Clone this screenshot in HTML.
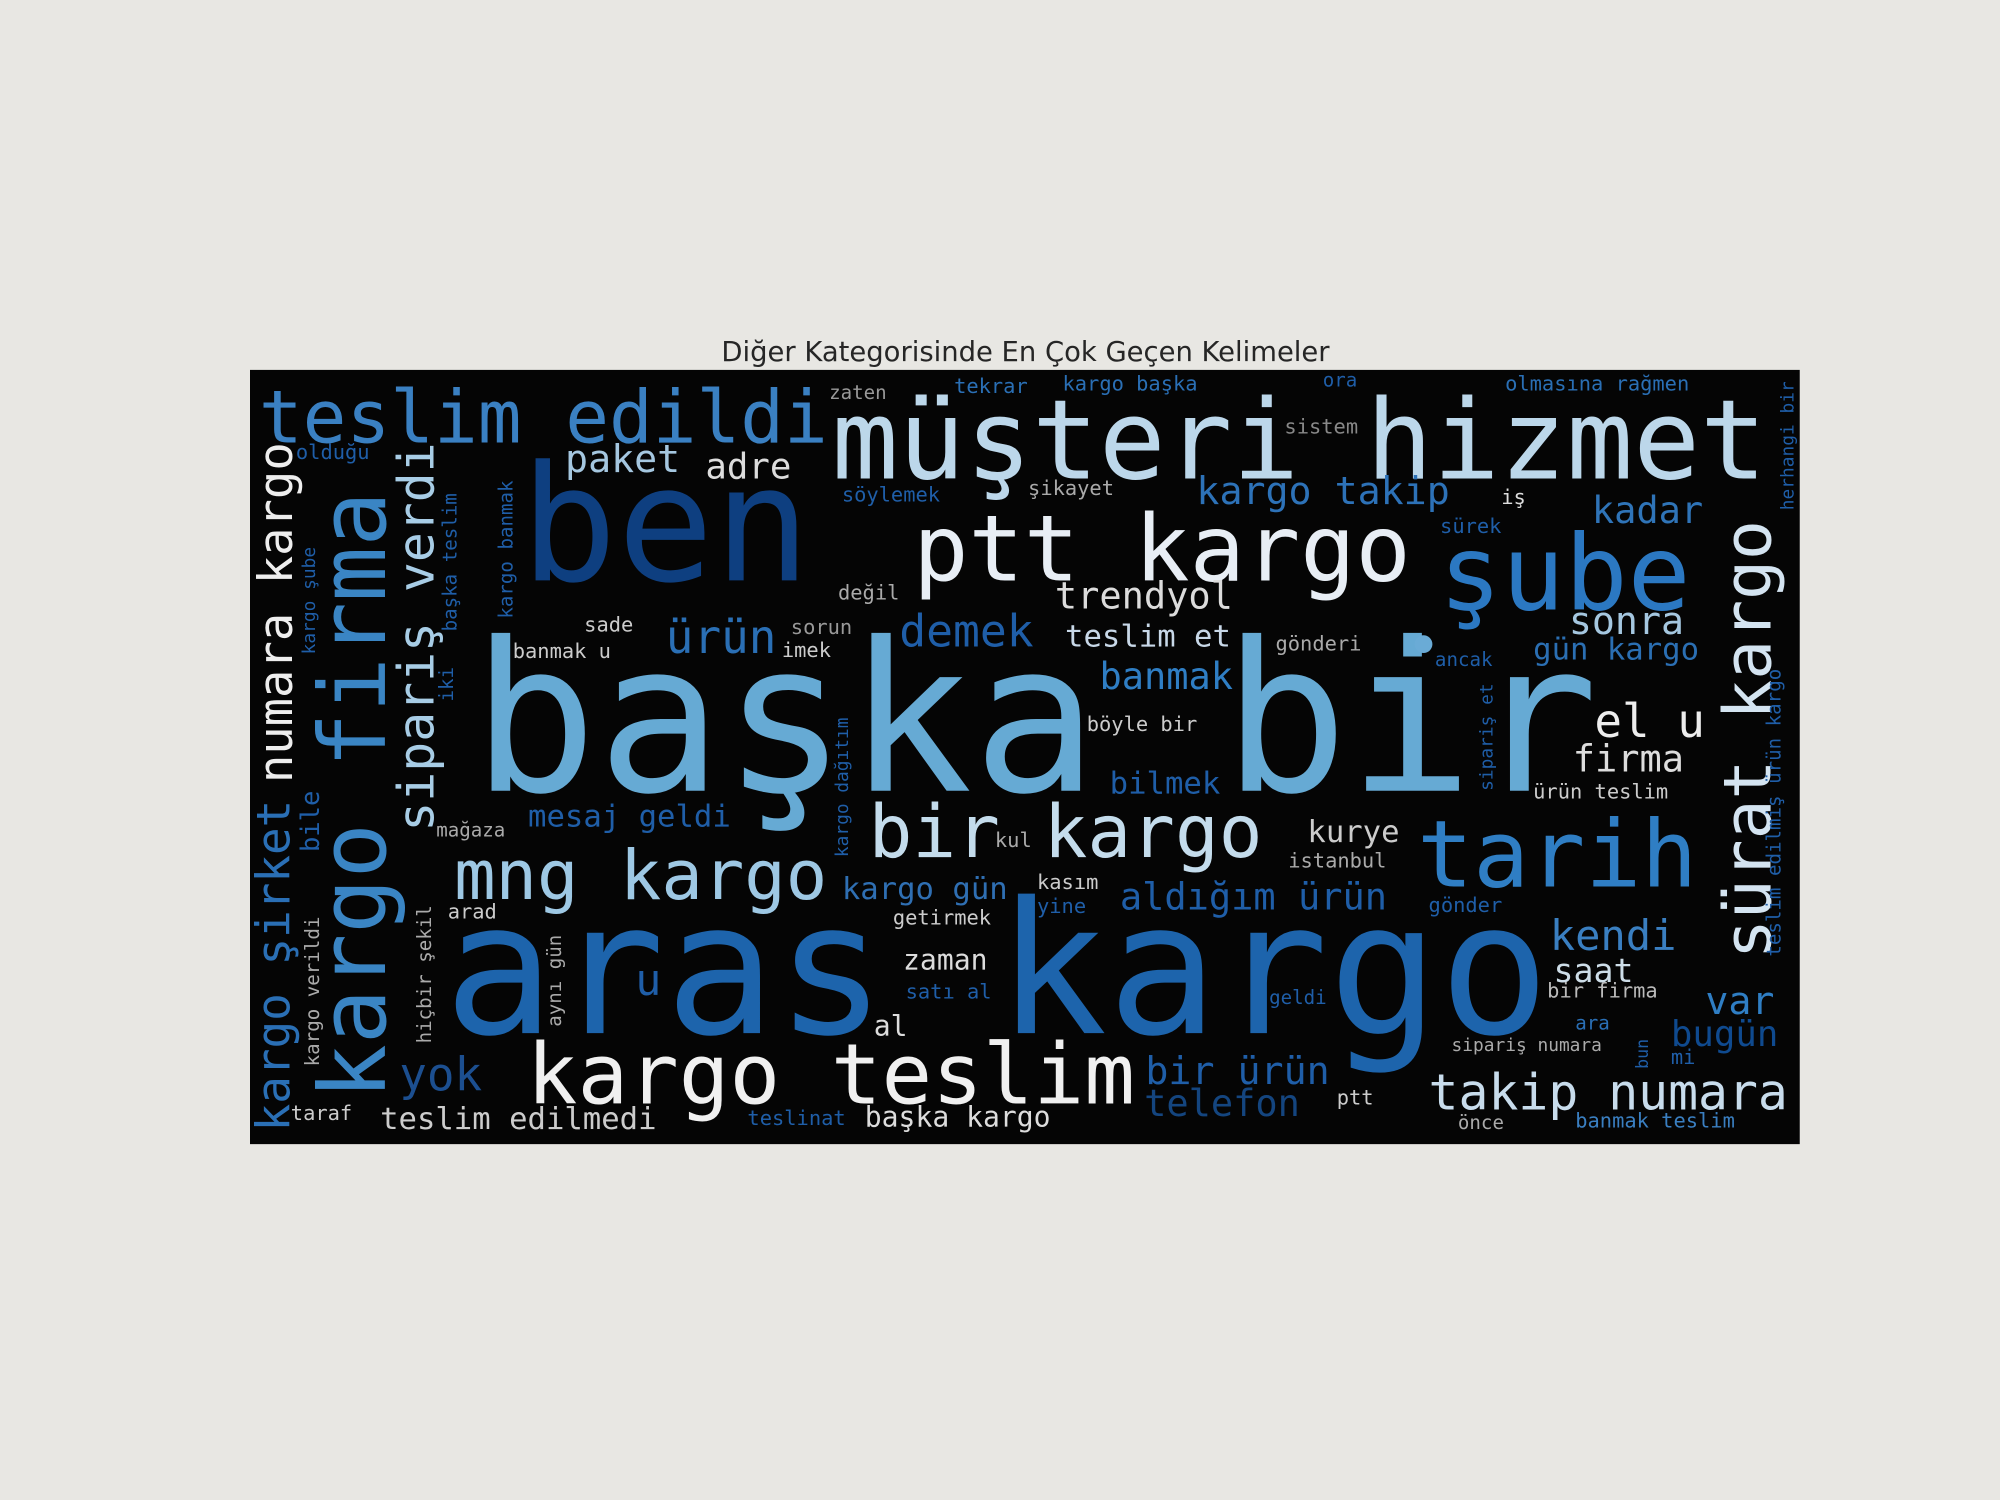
<!DOCTYPE html>
<html><head><meta charset="utf-8"><style>
html,body{margin:0;padding:0;background:#e8e7e3;}
svg{display:block;}
</style></head><body>
<svg id="chart" width="2000" height="1500" viewBox="0 0 1568 1176" xmlns="http://www.w3.org/2000/svg">
<rect x="0" y="0" width="1568" height="1176" fill="#e8e7e3"/>
<text x="804" y="283" text-anchor="middle" font-family="DejaVu Sans, Liberation Sans, sans-serif" font-size="21.5" fill="#262626">Diğer Kategorisinde En Çok Geçen Kelimeler</text>
<rect x="196" y="290" width="1215" height="607" fill="#050505"/>
<g id="words" font-family="DejaVu Sans Mono, Liberation Mono, monospace"></g>
<circle cx="1116" cy="505" r="7" fill="#6aabd6"/>
</svg>
<script>
const words=["teslim edildi","müşteri hizmet","ben","ptt kargo","şube","başka bir","aras kargo","kargo teslim","bir kargo","mng kargo","tarih","sürat kargo","kargo firma","numara kargo","kargo şirket","sipariş verdi","paket","adre","kargo takip","kadar","trendyol","ürün","demek","teslim et","sonra","gün kargo","banmak","el u","firma","bilmek","mesaj geldi","kurye","kargo gün","aldığım ürün","kendi","zaman","saat","var","bugün","u","al","yok","bir ürün","telefon","takip numara","teslim edilmedi","başka kargo","teslinat","zaten","tekrar","kargo başka","ora","olmasına rağmen","sistem","olduğu","söylemek","şikayet","iş","sürek","değil","sade","sorun","banmak u","imek","gönderi","ancak","böyle bir","ürün teslim","mağaza","kul","istanbul","kasım","arad","yine","getirmek","gönder","satı al","geldi","bir firma","ara","sipariş numara","mi","ptt","önce","banmak teslim","taraf","kargo verildi","bile","hiçbir şekil","aynı gün","iki","başka teslim","kargo banmak","kargo şube","kargo dağıtım","sipariş et","teslim edilmiş ürün kargo","herhangi bir","bun"];
const xs=[203,652,408,716,1128,370,348,413,681,356,1111,1388,302,229,227,340,443,553,938,1248,827,522,705,835,1230,1202,862,1250,1233,870,414,1025,660,878,1215,708,1218,1337,1310,498,685,313,898,897,1120,298,678,586,650,748,833,1037,1180,1007,232,660,806,1177,1129,657,458,620,402,613,1000,1125,852,1202,342,780,1010,813,351,813,700,1120,710,995,1213,1235,1138,1310,1048,1143,1235,228,250,250,338,440,355,358,402,247,665,1170,1396,1406,1292];
const ys=[347,375,455,455,478,620,810,865,672,705,695,752,862,614,887,652,370,375,395,410,477,512,507,507,497,517,540,578,605,622,648,660,705,713,745,760,770,795,820,780,812,855,850,875,870,885,883,882,313,308,306,303,306,340,360,393,388,395,418,470,495,497,516,515,510,522,573,626,656,664,680,697,720,716,725,715,783,787,782,807,824,834,866,885,884,878,836,668,818,805,550,495,485,513,672,620,750,400,838];
const sizes=[57,87,126,72,82,163,144,66,57,54,73,52,72,37,36,39,30,28,30,29,29,36,35,24,30,24,29,36,29,24,24,24,24,29,33,22,26,30,28,34,22,36,30,29,39,24,22,16,15,16,16,15,16,16,16,16,16,16,16,16,16,16,16,16,16,15,16,16,15,16,16,16,16,16,16,16,16,15,16,15,14,16,16,15,16,16,15,20,15,15,15,15,15,14,14,14,15,14,13,14];
const colors=["#3a80c2","#bcd7ea","#0e3f80","#e8eef5","#2b78c2","#66aad4","#1d64ac","#f0f0f0","#c4dcec","#9ec8e4","#2f7ec4","#d4e4f1","#3a85c4","#eeeeee","#2a6fb5","#a8cde6","#a5c7e0","#dddddd","#2d72b8","#2f74b8","#dcdcdc","#2a6fb5","#1f5ea8","#c8d8e8","#a5c7e0","#2b6fb3","#2f7ec4","#eeeeee","#dddddd","#1f5ea8","#1f5ea8","#cccccc","#2f6fb3","#1f5ea8","#3a7fc1","#dddddd","#cddde8","#2f7ec4","#0f4a8f","#1f5ea8","#dddddd","#1c4f90","#1f5ea8","#14457f","#c8dcec","#cccccc","#dddddd","#1f5ea8","#999999","#2a6fb5","#2a6fb5","#1f5ea8","#2a6fb5","#888888","#1f5ea8","#1f5ea8","#aaaaaa","#dddddd","#1f5ea8","#aaaaaa","#cccccc","#999999","#cccccc","#cccccc","#aaaaaa","#1f5ea8","#cccccc","#cccccc","#aaaaaa","#aaaaaa","#aaaaaa","#cccccc","#cccccc","#1f5ea8","#cccccc","#1f5ea8","#1f5ea8","#1f5ea8","#bbbbbb","#2a6fb5","#aaaaaa","#1f5ea8","#cccccc","#aaaaaa","#3a7fc1","#cccccc","#aaaaaa","#1f5ea8","#aaaaaa","#aaaaaa","#1f5ea8","#1f5ea8","#1f5ea8","#1f5ea8","#1f5ea8","#1f5ea8","#1f5ea8","#1f5ea8","#1f5ea8"];
const rotated=[0,0,0,0,0,0,0,0,0,0,0,1,1,1,1,1,0,0,0,0,0,0,0,0,0,0,0,0,0,0,0,0,0,0,0,0,0,0,0,0,0,0,0,0,0,0,0,0,0,0,0,0,0,0,0,0,0,0,0,0,0,0,0,0,0,0,0,0,0,0,0,0,0,0,0,0,0,0,0,0,0,0,0,0,0,0,1,1,1,1,1,1,1,1,1,1,1,1,1];
const g=document.getElementById('words');
const NS='http://www.w3.org/2000/svg';
for(let i=0;i<words.length;i++){
  const t=document.createElementNS(NS,'text');
  
  
  t.setAttribute('x',xs[i]);
  t.setAttribute('y',ys[i]);
  t.setAttribute('font-size',sizes[i]);
  t.setAttribute('fill',colors[i]);
  if(rotated[i]) t.setAttribute('transform','rotate(-90 '+xs[i]+' '+ys[i]+')');
  t.textContent=words[i];
  g.appendChild(t);
}
</script>
</body></html>
